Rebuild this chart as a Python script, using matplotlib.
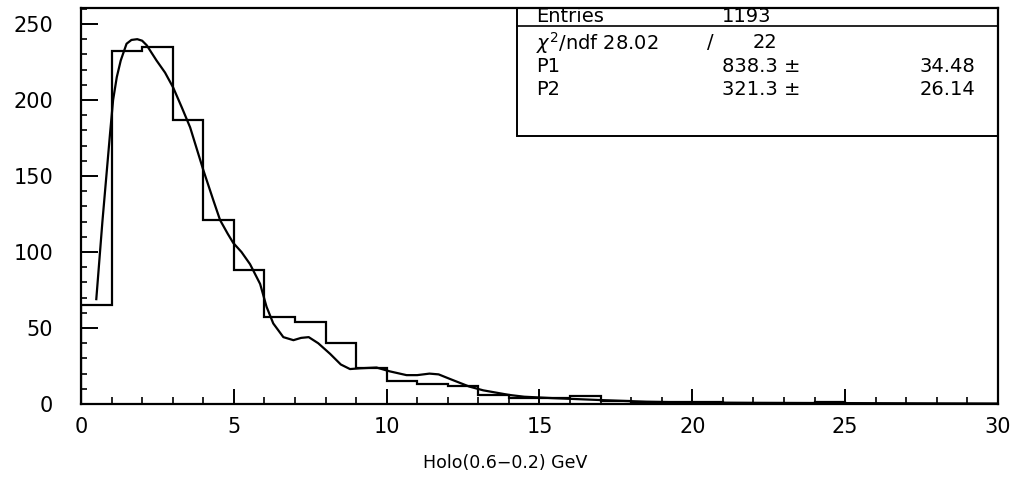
import numpy as np
import matplotlib as mpl
mpl.use('Agg')
import matplotlib.pyplot as plt
from matplotlib.patches import Rectangle

# histogram contents, 1 GeV bins from 0 to 30
bin_edges = np.arange(0, 31, 1)
counts = [65, 232, 235, 187, 121, 88, 57, 54, 40, 24,
          15, 13, 12, 6, 4, 4, 5, 2, 1, 1,
          1, 0, 0, 0, 1, 0, 0, 0, 0, 0]

# fitted curve
fit_x = [0.5, 0.7, 0.95, 1.05, 1.17, 1.3, 1.49, 1.65, 1.84, 2.0,
         2.15, 2.47, 2.75, 3.02, 3.3, 3.57, 4.0, 4.33, 4.55, 4.8,
         4.98, 5.25, 5.53, 5.86, 6.07, 6.29, 6.62, 6.95, 7.2, 7.45,
         7.76, 8.15, 8.5, 8.8, 9.13, 9.67, 10.1, 10.65, 11.0, 11.4,
         11.7, 12.07, 12.7, 13.16, 14.0, 14.5, 15.4, 17.0, 18.5, 20.0,
         22.0, 25.0, 28.0, 30.0]
fit_y = [69, 120, 178, 200, 215, 226, 237, 239.5, 240, 239,
         236, 226, 218, 208, 195, 182, 154, 134, 121, 112,
         106, 100, 92, 79, 64, 53, 44, 42, 43.5, 44,
         40, 33, 26, 23, 23.5, 24, 21.5, 19, 19, 20,
         19.5, 16.5, 11.5, 9, 6, 4.8, 3.9, 2.6, 1.5, 1.0,
         0.8, 0.6, 0.4, 0.3]

x_ticks = [0, 5, 10, 15, 20, 25, 30]
y_ticks = [0, 50, 100, 150, 200, 250]

stats_rows = [
    ("Entries", "1193"),
]
fit_params = [("P1", "838.3 \u00b1", "34.48"),
              ("P2", "321.3 \u00b1", "26.14")]
chi2_val = "28.02"
ndf_val = "22"

fig = plt.figure(figsize=(10.32, 4.95), dpi=100)
ax = fig.add_axes([0.0785, 0.1838, 0.8885, 0.8])

ax.stairs(counts, bin_edges, baseline=0, color='black', linewidth=1.6)
ax.plot(fit_x, fit_y, color='black', linewidth=1.6)

ax.set_xlim(0, 30)
ax.set_ylim(0, 260.5)
ax.set_xticks(x_ticks)
ax.set_yticks(y_ticks)
ax.xaxis.set_minor_locator(mpl.ticker.MultipleLocator(1))
ax.yaxis.set_minor_locator(mpl.ticker.MultipleLocator(10))
ax.tick_params(axis='x', which='major', direction='in', length=11, width=1.4,
               labelsize=15, pad=9)
ax.tick_params(axis='x', which='minor', direction='in', length=5, width=1.2)
ax.tick_params(axis='y', which='major', direction='in', length=12, width=1.4,
               labelsize=15, pad=20)
ax.tick_params(axis='y', which='minor', direction='in', length=4, width=1.2)
for s in ax.spines.values():
    s.set_linewidth(1.6)

fig.text(505/1032, 1 - 463/495, "Holo(0.6\u22120.2) GeV", fontsize=12.5,
         ha='center', va='center')

# stats box
tr = ax.transAxes
fs = 14
ax.add_patch(Rectangle((0.4755, 0.677), 1 - 0.4755, 1 - 0.677, transform=tr,
                       fill=False, edgecolor='black', linewidth=1.4, clip_on=False))
ax.plot([0.4755, 1], [0.9545, 0.9545], transform=tr, color='black', linewidth=1.2)
ax.text(0.496, 0.978, stats_rows[0][0], transform=tr, fontsize=fs, va='center')
ax.text(0.699, 0.978, stats_rows[0][1], transform=tr, fontsize=fs, va='center')
ax.text(0.496, 0.912, r"$\chi^2$/ndf " + chi2_val, transform=tr, fontsize=fs, va='center')
ax.text(0.683, 0.912, "/", transform=tr, fontsize=fs, va='center')
ax.text(0.733, 0.912, ndf_val, transform=tr, fontsize=fs, va='center')
row_y = [0.8535, 0.793]
for (name, val, err), yy in zip(fit_params, row_y):
    ax.text(0.496, yy, name, transform=tr, fontsize=fs, va='center')
    ax.text(0.699, yy, val, transform=tr, fontsize=fs, va='center')
    ax.text(0.975, yy, err, transform=tr, fontsize=fs, va='center', ha='right')

fig.savefig('out.png', dpi=100)
